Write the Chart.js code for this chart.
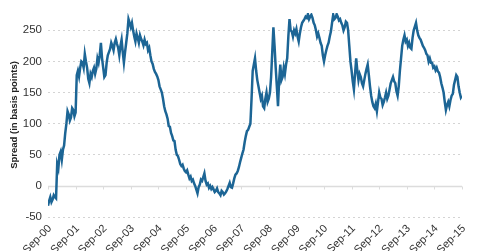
<!DOCTYPE html>
<html>
<head>
<meta charset="utf-8">
<script src="https://cdn.jsdelivr.net/npm/chart.js@4.4.0/dist/chart.umd.min.js"></script>
<style>
  html, body { margin: 0; padding: 0; background: #fff; }
  #wrap { width: 480px; height: 251px; }
</style>
</head>
<body>
<div id="wrap"><canvas id="chart" width="480" height="251"></canvas></div>
<script>
// x-axis labels, one per year
const tickLabels = ['Sep-00', 'Sep-01', 'Sep-02', 'Sep-03', 'Sep-04', 'Sep-05', 'Sep-06', 'Sep-07',
                    'Sep-08', 'Sep-09', 'Sep-10', 'Sep-11', 'Sep-12', 'Sep-13', 'Sep-14', 'Sep-15'];

// twice-monthly spread (basis points), Sep-00 .. Sep-15, one row per year
const spread = [
    -32, -24, -18, -26, -22, -15, -18, -20, 35, 28, 50, 55, 42, 58, 65, 85, 100, 120, 115, 105, 110, 125, 122, 112,
    118, 178, 185, 176, 190, 200, 198, 190, 212, 200, 190, 172, 165, 180, 175, 185, 190, 180, 188, 205, 198, 210, 230, 205,
    190, 175, 178, 198, 210, 215, 220, 230, 225, 218, 230, 236, 228, 222, 210, 225, 235, 215, 198, 215, 230, 245, 268, 262,
    255, 262, 250, 240, 232, 245, 238, 230, 242, 236, 232, 226, 235, 228, 230, 218, 222, 210, 200, 196, 188, 183, 180, 176,
    170, 160, 155, 150, 140, 128, 120, 115, 108, 96, 95, 85, 80, 73, 72, 58, 50, 48, 42, 35, 32, 34, 28, 24,
    22, 25, 18, 12, 15, 8, 10, 4, 0, -6, -12, -2, 2, 10, 8, 14, 20, 8, 2, 4, -3, 0, -5, -2,
    -6, -10, -8, -4, -10, -12, -15, -8, -10, -14, -12, -9, -5, 0, 5, -2, -3, 4, 12, 18, 20, 24, 30, 38,
    45, 52, 58, 70, 80, 88, 90, 95, 100, 140, 185, 195, 205, 185, 170, 160, 150, 140, 145, 128, 125, 140, 150, 135,
    140, 150, 175, 215, 255, 225, 190, 160, 128, 170, 195, 170, 175, 190, 180, 195, 205, 240, 268, 250, 248, 240, 250, 245,
    252, 240, 232, 245, 255, 262, 265, 268, 272, 270, 276, 268, 272, 275, 270, 262, 258, 250, 240, 245, 238, 230, 225, 210,
    200, 210, 218, 225, 230, 240, 248, 262, 275, 268, 270, 276, 272, 266, 268, 262, 258, 250, 255, 264, 262, 250, 225, 200,
    185, 168, 155, 180, 205, 185, 170, 180, 175, 165, 160, 170, 180, 188, 195, 178, 160, 145, 135, 128, 125, 132, 120, 135,
    150, 142, 140, 130, 135, 142, 150, 140, 145, 155, 165, 170, 175, 168, 165, 152, 145, 160, 185, 205, 225, 235, 242, 232,
    235, 225, 230, 222, 220, 238, 250, 256, 262, 250, 242, 238, 235, 230, 225, 222, 218, 212, 210, 200, 205, 198, 198, 190,
    192, 186, 190, 184, 182, 175, 165, 158, 150, 135, 122, 130, 135, 128, 138, 145, 148, 162, 170, 178, 175, 160, 150, 142,
    145
];

const yTicks = [-50, 0, 50, 100, 150, 200, 250];

// solid zero line with small year ticks (axis crosses at 0)
const zeroLine = {
    id: 'zeroLine',
    beforeDatasetsDraw(chart) {
        const { ctx, scales: { x, y } } = chart;
        const y0 = Math.round(y.getPixelForValue(0)) + 0.5;
        ctx.save();
        ctx.strokeStyle = '#dcdcdc';
        ctx.lineWidth = 1.5;
        ctx.beginPath();
        ctx.moveTo(x.left, y0);
        ctx.lineTo(x.right, y0);
        ctx.stroke();
        ctx.lineWidth = 1;
        tickLabels.forEach((t, i) => {
            const px = Math.round(x.getPixelForValue(i * 12)) + 0.5;
            ctx.beginPath();
            ctx.moveTo(px, y0);
            ctx.lineTo(px, y0 + 3);
            ctx.stroke();
        });
        ctx.restore();
    }
};

const ctx = document.getElementById('chart').getContext('2d');
new Chart(ctx, {
    type: 'line',
    data: {
        datasets: [{
            data: spread.map((v, i) => ({ x: i / 2, y: v })),
            borderColor: '#1c6595',
            borderWidth: 2.5,
            pointRadius: 0,
            tension: 0,
            fill: false
        }]
    },
    options: {
        responsive: false,
        animation: false,
        layout: { padding: { left: 0, right: 18, top: 0, bottom: 0 } },
        plugins: { legend: { display: false }, tooltip: { enabled: false } },
        scales: {
            x: {
                type: 'linear',
                min: 0,
                max: 180,
                grid: { display: false },
                border: { display: false },
                afterBuildTicks: (scale) => {
                    scale.ticks = tickLabels.map((t, i) => ({ value: i * 12 }));
                },
                afterFit: (scale) => { scale.height = 34; },
                ticks: {
                    autoSkip: false,
                    minRotation: 45,
                    maxRotation: 45,
                    padding: -3,
                    labelOffset: 2,
                    color: '#333',
                    font: { family: 'Liberation Sans, Arial, sans-serif', size: 11 },
                    callback: (v) => tickLabels[Math.round(v / 12)]
                }
            },
            y: {
                min: -50,
                max: 278,
                afterBuildTicks: (scale) => {
                    scale.ticks = yTicks.map(v => ({ value: v }));
                },
                afterFit: (scale) => { scale.width = 48; },
                grid: {
                    color: (c) => c.tick && c.tick.value === 0 ? 'rgba(0,0,0,0)' : '#d4d4d4',
                    lineWidth: 1,
                    drawTicks: false
                },
                border: { display: false, dash: [2, 3] },
                ticks: {
                    padding: 6,
                    color: '#333',
                    font: { family: 'Liberation Sans, Arial, sans-serif', size: 11.5 }
                },
                title: {
                    display: true,
                    text: 'Spread (in basis points)',
                    color: '#222',
                    padding: { top: 9, bottom: 0 },
                    font: { family: 'Liberation Sans, Arial, sans-serif', size: 9.5, weight: 'bold' }
                }
            }
        }
    },
    plugins: [zeroLine]
});
</script>
</body>
</html>
